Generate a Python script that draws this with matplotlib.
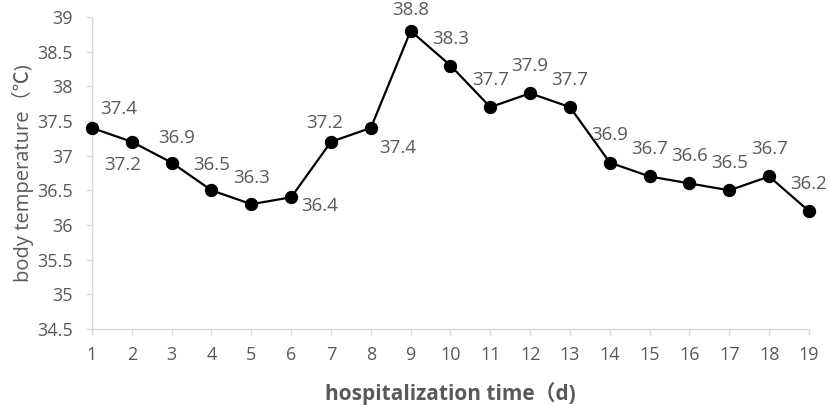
import matplotlib.pyplot as plt

days = list(range(1, 20))
temps = [37.4, 37.2, 36.9, 36.5, 36.3, 36.4, 37.2, 37.4, 38.8, 38.3,
         37.7, 37.9, 37.7, 36.9, 36.7, 36.6, 36.5, 36.7, 36.2]
yticks = [34.5, 35, 35.5, 36, 36.5, 37, 37.5, 38, 38.5, 39]

# where each data label sits relative to its point (pixels)
label_offsets = [(27, 19), (-9, -23), (5, 25), (0, 25), (0, 26), (28, -9),
                 (-6, 19), (27, -20), (0, 21), (0, 27), (0, 27), (0, 27),
                 (0, 27), (0, 28), (0, 27), (0, 27), (0, 27), (0, 27), (0, 27)]

fonts = ['Open Sans', 'Noto Sans CJK SC', 'DejaVu Sans']
plt.rcParams['font.family'] = fonts
grey = '#595959'
axis_col = '#d9d9d9'

fig = plt.figure(figsize=(8.29, 4.05), dpi=100)
ax = fig.add_axes([92 / 829, 1 - 329 / 405, (809 - 92) / 829, (329 - 17) / 405])

ax.plot(days, temps, color='black', lw=1.6, marker='o', ms=8.6, zorder=3, clip_on=False)

for d, t, (dx, dy) in zip(days, temps, label_offsets):
    ax.annotate('{:.1f}'.format(t), (d, t), xytext=(dx, dy), textcoords='offset pixels',
                ha='center', va='center', fontsize=13.5, color=grey)

ax.set_xlim(1, 19)
ax.set_ylim(34.5, 39)
ax.set_xticks(days)
ax.set_yticks(yticks)
ax.set_yticklabels(['{:g}'.format(v) for v in yticks])

for s in ['top', 'right']:
    ax.spines[s].set_visible(False)
for s in ['left', 'bottom']:
    ax.spines[s].set_color(axis_col)
    ax.spines[s].set_linewidth(1.0)
ax.tick_params(colors=axis_col, labelcolor=grey, labelsize=13, length=4, width=1)
ax.tick_params(axis='x', pad=8)
ax.tick_params(axis='y', pad=10)

ax.set_xlabel('hospitalization time（d)', fontsize=15, fontweight='bold', color=grey, labelpad=13)
ax.set_ylabel('body temperature（℃)', fontsize=14.5, color=grey, labelpad=2)

fig.savefig('out.png', dpi=100)
